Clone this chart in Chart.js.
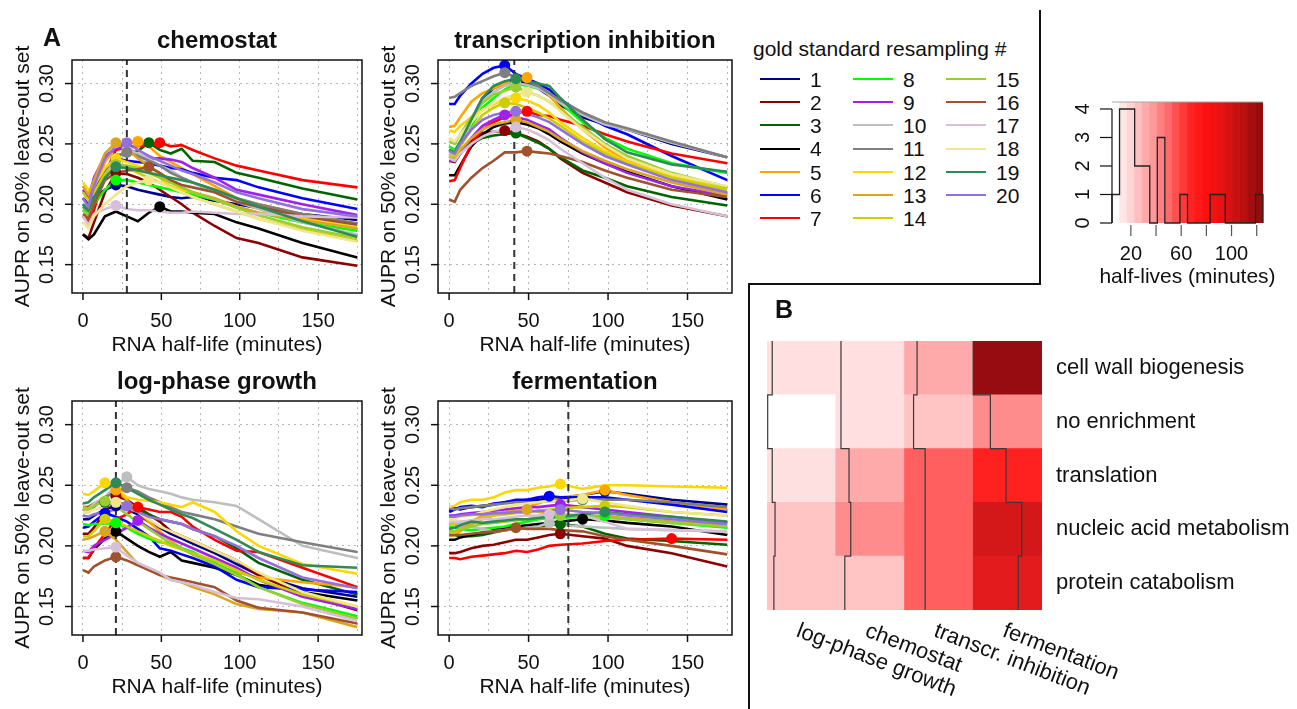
<!DOCTYPE html>
<html>
<head>
<meta charset="utf-8">
<script src="https://cdn.jsdelivr.net/npm/chart.js@4.4.1/dist/chart.umd.min.js"></script>
<style>
body{margin:0;background:#fff;width:1297px;height:709px;position:relative;overflow:hidden;font-family:"Liberation Sans",Arial,Helvetica,sans-serif;color:#111}
canvas{position:absolute}
.t{position:absolute;white-space:nowrap}
.bar{position:absolute;background:#111}
</style>
</head>
<body>
<canvas id="chemostat" width="372" height="360" style="left:0;top:0"></canvas>
<canvas id="transcription" width="372" height="360" style="left:372px;top:0"></canvas>
<canvas id="logphase" width="372" height="359" style="left:0;top:350px"></canvas>
<canvas id="fermentation" width="372" height="359" style="left:372px;top:350px"></canvas>
<canvas id="hist" width="257" height="240" style="left:1040px;top:60px"></canvas>
<canvas id="heat" width="547" height="424" style="left:750px;top:285px"></canvas>
<script>
// x grid shared by all AUPR curves (RNA half-life, minutes)
const HALF_LIFE=[0,3.5,7,14,21,28,35,42,49,56,63,70,84,98,112,140,175];
const RESAMPLING=['1','2','3','4','5','6','7','8','9','10','11','12','13','14','15','16','17','18','19','20'];
const SERIES_COLORS=['#00008b','#8b0000','#006400','#000000','#ffa500','#0000ff','#ff0000','#00ff00','#a020f0','#bebebe',
  '#7f7f7f','#ffd700','#daa520','#cdcd00','#9acd32','#a0522d','#d8bfd8','#f0e68c','#2e8b57','#9370db'];

const chemostat=[
  [0.200,0.195,0.205,0.212,0.216,0.215,0.212,0.210,0.208,0.206,0.205,0.206,0.203,0.200,0.197,0.192,0.187],
  [0.175,0.172,0.185,0.210,0.226,0.225,0.222,0.218,0.212,0.206,0.200,0.193,0.182,0.172,0.168,0.156,0.149],
  [0.200,0.195,0.205,0.228,0.240,0.242,0.244,0.251,0.245,0.242,0.246,0.236,0.235,0.226,0.222,0.213,0.204],
  [0.175,0.171,0.175,0.190,0.194,0.190,0.186,0.193,0.198,0.194,0.194,0.193,0.192,0.185,0.180,0.168,0.156],
  [0.205,0.200,0.212,0.235,0.248,0.250,0.252,0.248,0.240,0.235,0.230,0.225,0.215,0.205,0.200,0.192,0.184],
  [0.205,0.200,0.210,0.228,0.238,0.236,0.235,0.234,0.232,0.230,0.229,0.226,0.222,0.220,0.214,0.205,0.196],
  [0.190,0.185,0.195,0.225,0.245,0.247,0.248,0.249,0.251,0.248,0.249,0.245,0.238,0.232,0.228,0.220,0.214],
  [0.198,0.190,0.200,0.212,0.220,0.220,0.218,0.216,0.214,0.212,0.210,0.208,0.204,0.198,0.193,0.185,0.178],
  [0.212,0.205,0.222,0.240,0.246,0.248,0.240,0.238,0.238,0.237,0.235,0.230,0.222,0.212,0.208,0.200,0.191],
  [0.200,0.196,0.205,0.225,0.238,0.245,0.242,0.238,0.232,0.228,0.222,0.218,0.210,0.202,0.196,0.185,0.175],
  [0.198,0.195,0.205,0.228,0.240,0.243,0.240,0.236,0.232,0.226,0.222,0.218,0.212,0.205,0.200,0.192,0.184],
  [0.218,0.212,0.215,0.230,0.238,0.235,0.232,0.228,0.222,0.215,0.212,0.210,0.205,0.198,0.193,0.188,0.181],
  [0.215,0.208,0.220,0.242,0.251,0.246,0.238,0.232,0.225,0.218,0.214,0.210,0.205,0.198,0.193,0.187,0.180],
  [0.210,0.203,0.210,0.225,0.232,0.230,0.226,0.222,0.218,0.214,0.210,0.206,0.200,0.194,0.188,0.179,0.170],
  [0.195,0.190,0.202,0.222,0.233,0.232,0.230,0.226,0.222,0.218,0.214,0.210,0.204,0.197,0.191,0.181,0.172],
  [0.192,0.188,0.200,0.220,0.226,0.228,0.229,0.231,0.226,0.220,0.216,0.214,0.210,0.202,0.198,0.190,0.183],
  [0.190,0.183,0.192,0.196,0.199,0.196,0.195,0.195,0.194,0.193,0.193,0.194,0.193,0.192,0.192,0.190,0.189],
  [0.185,0.180,0.190,0.200,0.208,0.215,0.218,0.220,0.218,0.214,0.210,0.206,0.200,0.194,0.188,0.178,0.169],
  [0.200,0.195,0.205,0.222,0.231,0.230,0.228,0.226,0.224,0.222,0.220,0.218,0.212,0.205,0.198,0.186,0.173],
  [0.205,0.198,0.215,0.238,0.248,0.251,0.245,0.240,0.236,0.232,0.228,0.225,0.218,0.210,0.205,0.196,0.190]
];
const transcription=[
  [0.245,0.242,0.250,0.270,0.288,0.296,0.300,0.302,0.300,0.296,0.290,0.282,0.272,0.266,0.262,0.250,0.239],
  [0.236,0.235,0.242,0.252,0.259,0.260,0.261,0.259,0.256,0.252,0.246,0.238,0.226,0.218,0.210,0.199,0.190],
  [0.240,0.238,0.244,0.250,0.255,0.257,0.258,0.259,0.255,0.251,0.246,0.239,0.228,0.222,0.215,0.206,0.199],
  [0.224,0.224,0.232,0.248,0.258,0.264,0.267,0.268,0.266,0.263,0.258,0.252,0.242,0.234,0.227,0.215,0.204],
  [0.264,0.265,0.272,0.285,0.292,0.296,0.300,0.302,0.305,0.298,0.290,0.280,0.262,0.247,0.236,0.222,0.209],
  [0.283,0.283,0.290,0.300,0.308,0.313,0.315,0.308,0.304,0.300,0.295,0.287,0.275,0.265,0.258,0.240,0.220],
  [0.219,0.220,0.230,0.250,0.262,0.268,0.272,0.276,0.277,0.274,0.273,0.270,0.265,0.258,0.252,0.242,0.234],
  [0.248,0.245,0.252,0.265,0.280,0.288,0.295,0.300,0.298,0.296,0.292,0.284,0.268,0.255,0.246,0.234,0.226],
  [0.236,0.236,0.242,0.255,0.265,0.270,0.274,0.272,0.270,0.266,0.262,0.255,0.243,0.234,0.226,0.215,0.207],
  [0.242,0.240,0.248,0.268,0.285,0.293,0.298,0.300,0.299,0.296,0.291,0.284,0.274,0.266,0.262,0.251,0.239],
  [0.288,0.289,0.292,0.298,0.302,0.306,0.309,0.305,0.302,0.298,0.292,0.286,0.276,0.268,0.263,0.252,0.239],
  [0.261,0.260,0.265,0.272,0.278,0.283,0.286,0.288,0.286,0.282,0.276,0.268,0.255,0.244,0.235,0.223,0.213],
  [0.240,0.238,0.245,0.255,0.262,0.266,0.268,0.270,0.268,0.264,0.260,0.254,0.244,0.236,0.229,0.218,0.208],
  [0.240,0.240,0.248,0.262,0.274,0.280,0.284,0.283,0.280,0.276,0.271,0.265,0.252,0.242,0.234,0.222,0.212],
  [0.252,0.250,0.258,0.272,0.284,0.291,0.294,0.297,0.293,0.290,0.285,0.278,0.264,0.250,0.240,0.226,0.214],
  [0.204,0.202,0.212,0.222,0.230,0.236,0.243,0.243,0.244,0.243,0.242,0.240,0.235,0.228,0.222,0.212,0.206],
  [0.238,0.236,0.242,0.250,0.256,0.260,0.262,0.264,0.262,0.258,0.253,0.246,0.234,0.222,0.212,0.200,0.190],
  [0.255,0.252,0.258,0.268,0.278,0.284,0.288,0.291,0.293,0.290,0.285,0.277,0.262,0.249,0.238,0.225,0.215],
  [0.245,0.243,0.252,0.270,0.288,0.298,0.302,0.304,0.302,0.300,0.298,0.288,0.270,0.254,0.243,0.233,0.227],
  [0.244,0.242,0.250,0.262,0.270,0.274,0.276,0.277,0.275,0.272,0.268,0.262,0.250,0.240,0.233,0.220,0.210]
];
const logPhase=[
  [0.222,0.222,0.225,0.230,0.233,0.230,0.226,0.220,0.215,0.210,0.206,0.202,0.194,0.185,0.176,0.165,0.158],
  [0.210,0.210,0.215,0.228,0.241,0.238,0.232,0.226,0.220,0.212,0.208,0.204,0.196,0.188,0.176,0.160,0.147],
  [0.232,0.232,0.235,0.236,0.236,0.234,0.230,0.226,0.222,0.220,0.218,0.214,0.208,0.198,0.186,0.172,0.160],
  [0.190,0.190,0.197,0.206,0.212,0.206,0.200,0.195,0.191,0.195,0.188,0.186,0.182,0.176,0.168,0.162,0.155],
  [0.232,0.231,0.235,0.240,0.246,0.238,0.228,0.220,0.212,0.204,0.198,0.193,0.185,0.178,0.174,0.170,0.166],
  [0.215,0.216,0.220,0.227,0.224,0.220,0.214,0.208,0.198,0.196,0.193,0.190,0.183,0.172,0.166,0.164,0.162],
  [0.190,0.190,0.198,0.210,0.222,0.226,0.232,0.230,0.228,0.228,0.224,0.216,0.205,0.196,0.195,0.182,0.166],
  [0.218,0.217,0.218,0.218,0.219,0.215,0.210,0.206,0.203,0.202,0.198,0.195,0.186,0.177,0.166,0.153,0.142],
  [0.196,0.195,0.200,0.205,0.210,0.215,0.221,0.215,0.210,0.206,0.202,0.198,0.190,0.182,0.172,0.158,0.148],
  [0.230,0.230,0.235,0.240,0.250,0.257,0.250,0.247,0.245,0.243,0.240,0.238,0.236,0.233,0.222,0.200,0.190],
  [0.228,0.228,0.232,0.240,0.245,0.248,0.245,0.240,0.236,0.232,0.228,0.226,0.222,0.216,0.210,0.203,0.195],
  [0.243,0.242,0.245,0.252,0.248,0.240,0.238,0.237,0.236,0.234,0.232,0.236,0.228,0.212,0.200,0.185,0.177],
  [0.205,0.206,0.208,0.212,0.205,0.195,0.185,0.180,0.176,0.172,0.170,0.166,0.160,0.152,0.148,0.145,0.133],
  [0.208,0.208,0.212,0.222,0.220,0.216,0.212,0.208,0.204,0.200,0.197,0.194,0.188,0.180,0.172,0.160,0.150],
  [0.230,0.230,0.233,0.237,0.233,0.226,0.220,0.214,0.208,0.202,0.198,0.193,0.185,0.176,0.166,0.152,0.140],
  [0.180,0.178,0.183,0.188,0.191,0.188,0.184,0.180,0.176,0.174,0.172,0.170,0.166,0.155,0.149,0.145,0.136],
  [0.196,0.196,0.197,0.198,0.199,0.192,0.186,0.182,0.178,0.172,0.170,0.168,0.162,0.157,0.156,0.150,0.138],
  [0.228,0.228,0.230,0.232,0.236,0.232,0.228,0.222,0.216,0.212,0.208,0.204,0.196,0.188,0.178,0.162,0.150],
  [0.235,0.236,0.240,0.246,0.252,0.248,0.243,0.238,0.234,0.230,0.226,0.223,0.214,0.205,0.195,0.184,0.182],
  [0.225,0.224,0.226,0.228,0.230,0.233,0.228,0.224,0.222,0.220,0.218,0.214,0.208,0.200,0.190,0.174,0.165]
];
const fermentation=[
  [0.230,0.231,0.230,0.232,0.233,0.234,0.236,0.237,0.238,0.238,0.239,0.239,0.242,0.245,0.243,0.238,0.234],
  [0.194,0.194,0.195,0.198,0.200,0.201,0.203,0.205,0.205,0.207,0.209,0.210,0.208,0.206,0.200,0.194,0.183],
  [0.209,0.209,0.208,0.208,0.209,0.211,0.213,0.214,0.215,0.216,0.217,0.218,0.216,0.210,0.206,0.204,0.201],
  [0.205,0.205,0.207,0.209,0.211,0.213,0.215,0.216,0.217,0.218,0.219,0.220,0.222,0.221,0.219,0.216,0.209],
  [0.208,0.209,0.212,0.220,0.225,0.226,0.228,0.230,0.232,0.235,0.238,0.240,0.242,0.246,0.242,0.236,0.230],
  [0.228,0.230,0.232,0.233,0.232,0.235,0.236,0.238,0.238,0.240,0.241,0.240,0.240,0.240,0.238,0.234,0.228],
  [0.190,0.190,0.189,0.191,0.192,0.193,0.194,0.196,0.195,0.197,0.200,0.201,0.202,0.204,0.205,0.206,0.205],
  [0.216,0.215,0.214,0.213,0.214,0.215,0.216,0.218,0.220,0.222,0.223,0.223,0.224,0.225,0.222,0.219,0.215],
  [0.225,0.225,0.226,0.227,0.228,0.229,0.230,0.231,0.232,0.232,0.233,0.234,0.232,0.230,0.228,0.224,0.219],
  [0.218,0.217,0.216,0.216,0.214,0.212,0.213,0.214,0.215,0.216,0.219,0.217,0.216,0.215,0.214,0.213,0.212],
  [0.231,0.230,0.231,0.232,0.233,0.234,0.235,0.236,0.236,0.236,0.237,0.237,0.238,0.238,0.238,0.236,0.232],
  [0.232,0.233,0.236,0.238,0.238,0.240,0.244,0.246,0.246,0.248,0.249,0.251,0.247,0.250,0.250,0.249,0.248],
  [0.212,0.212,0.214,0.218,0.222,0.225,0.227,0.229,0.230,0.228,0.227,0.226,0.225,0.224,0.223,0.220,0.217],
  [0.218,0.218,0.219,0.221,0.223,0.225,0.226,0.227,0.228,0.229,0.230,0.231,0.232,0.233,0.232,0.228,0.225],
  [0.212,0.212,0.214,0.216,0.218,0.219,0.220,0.221,0.222,0.223,0.224,0.225,0.224,0.223,0.222,0.219,0.216],
  [0.209,0.209,0.209,0.210,0.211,0.212,0.213,0.215,0.214,0.214,0.214,0.213,0.212,0.208,0.205,0.200,0.193],
  [0.220,0.220,0.220,0.221,0.222,0.222,0.223,0.224,0.225,0.225,0.226,0.226,0.225,0.220,0.214,0.213,0.212],
  [0.222,0.222,0.224,0.225,0.228,0.230,0.232,0.234,0.235,0.236,0.237,0.237,0.239,0.236,0.233,0.228,0.225],
  [0.214,0.215,0.217,0.220,0.219,0.220,0.221,0.222,0.222,0.223,0.224,0.224,0.226,0.228,0.226,0.224,0.220],
  [0.224,0.224,0.225,0.226,0.226,0.227,0.227,0.228,0.228,0.229,0.229,0.230,0.228,0.227,0.225,0.222,0.218]
];
const PANEL_TITLES=['chemostat','transcription inhibition','log-phase growth','fermentation'];
const OPTIMAL_HALF_LIFE=[28,41,21,75];
const X_TICK_LABELS=[0,50,100,150];
const Y_TICK_LABELS=[0.15,0.20,0.25,0.30];

// histogram of best half-lives
const HIST_EDGES=[5,11,17,23,29,35,41,47,53,59,65,71,77,83,89,95,101,107,113,119,125];
const HIST_COUNTS=[1,4,4,2,2,0,3,0,0,1,0,0,0,1,1,0,0,0,0,1];
const HIST_TICKS=[20,40,60,80,100,120];
const HIST_TICK_LABELS=[20,60,100];
const HIST_Y_TICKS=[0,1,2,3,4];
const STRIPE_COLORS=['#ffffff','#ffe6e6','#ffd4d4','#ffbfbf','#ffaaaa','#ff9898','#ff8080','#ff6a6a','#ff5050','#ff3838',
  '#ff2424','#ff1818','#fc1010','#f21212','#e61212','#d81212','#c81212','#b81010','#a50e0e','#940c0c'];

// panel B
const CONDITIONS=['log-phase growth','chemostat','transcr. inhibition','fermentation'];
const CATEGORIES=['cell wall biogenesis','no enrichment','translation','nucleic acid metabolism','protein catabolism'];
const ENRICHMENT=[ // rows top->bottom, columns = CONDITIONS
  [0.108,0.108,0.286,1.000],
  [0.000,0.108,0.198,0.387],
  [0.105,0.286,0.538,0.750],
  [0.198,0.387,0.538,0.852],
  [0.198,0.198,0.538,0.814]
];
const TRACE=[ // per condition, rows top->bottom, offset inside the column
  [0.076,0.010,0.076,0.117,0.100],
  [0.076,0.076,0.193,0.218,0.132],
  [0.183,0.132,0.300,0.300,0.300],
  [0.000,0.249,0.477,0.706,0.655]
];

const FONT='"Liberation Sans", Arial, Helvetica, sans-serif';
const X_MIN=-7, X_MAX=178, Y_MIN=0.1265, Y_MAX=0.3195;
const INK='#111';

function seg(ctx,x1,y1,x2,y2){ctx.beginPath();ctx.moveTo(x1,y1);ctx.lineTo(x2,y2);ctx.stroke()}

const rAxes={
  id:'rAxes',
  afterDraw(chart,args,opts){
    const {ctx,chartArea:a,scales:{x,y}}=chart;
    ctx.save();
    ctx.strokeStyle=INK; ctx.lineWidth=1.5; ctx.setLineDash([]);
    ctx.strokeRect(a.left,a.top,a.right-a.left,a.bottom-a.top);
    ctx.fillStyle=INK; ctx.textAlign='center'; ctx.textBaseline='middle';
    ctx.font='20px '+FONT;
    X_TICK_LABELS.forEach(v=>{
      const px=x.getPixelForValue(v);
      seg(ctx,px,a.bottom,px,a.bottom+7);
      ctx.fillText(String(v),px,a.bottom+28);
    });
    Y_TICK_LABELS.forEach(v=>{
      const py=y.getPixelForValue(v);
      seg(ctx,a.left-7,py,a.left,py);
      ctx.save(); ctx.translate(a.left-25,py); ctx.rotate(-Math.PI/2);
      ctx.fillText(v.toFixed(2),0,0); ctx.restore();
    });
    ctx.font='21px '+FONT;
    ctx.fillText('RNA half-life (minutes)',(a.left+a.right)/2,a.bottom+52);
    ctx.save(); ctx.translate(a.left-49,(a.top+a.bottom)/2); ctx.rotate(-Math.PI/2);
    ctx.fillText('AUPR on 50% leave-out set',0,0); ctx.restore();
    ctx.font='bold 24px '+FONT; ctx.textBaseline='alphabetic';
    ctx.fillText(opts.title,(a.left+a.right)/2,a.top-12);
    ctx.restore();
  }
};

function panel(id,series,k,pad){
  const datasets=[];
  series.forEach((vals,i)=>{
    datasets.push({label:RESAMPLING[i],data:HALF_LIFE.map((h,j)=>({x:h,y:vals[j]})),
      borderColor:SERIES_COLORS[i],borderWidth:2.6,pointRadius:0,tension:0,order:140-i});
  });
  datasets.push({data:[{x:OPTIMAL_HALF_LIFE[k],y:Y_MIN},{x:OPTIMAL_HALF_LIFE[k],y:Y_MAX}],
    borderColor:'#333',borderWidth:2,borderDash:[7,5],pointRadius:0,order:100});
  series.forEach((vals,i)=>{
    const best=vals.indexOf(Math.max(...vals));
    datasets.push({data:[{x:HALF_LIFE[best],y:vals[best]}],showLine:false,pointRadius:5.5,
      pointBackgroundColor:SERIES_COLORS[i],pointBorderWidth:0,order:40-i});
  });
  const grid={color:'#b8b8b8',lineWidth:1,drawTicks:false};
  new Chart(document.getElementById(id),{
    type:'line',
    data:{datasets},
    plugins:[rAxes],
    options:{
      responsive:false,animation:false,devicePixelRatio:1,
      layout:{padding:pad},
      plugins:{legend:{display:false},tooltip:{enabled:false},rAxes:{title:PANEL_TITLES[k]}},
      scales:{
        x:{type:'linear',min:X_MIN,max:X_MAX,afterFit:s=>{s.height=0},
           ticks:{display:false,stepSize:25,includeBounds:false},grid,border:{display:false,dash:[2,4]}},
        y:{type:'linear',min:Y_MIN,max:Y_MAX,afterFit:s=>{s.width=0},
           ticks:{display:false,stepSize:0.05,includeBounds:false},grid,border:{display:false,dash:[2,4]}}
      }
    }
  });
}
panel('chemostat',chemostat,0,{left:72,top:60,right:10,bottom:67});
panel('transcription',transcription,1,{left:66,top:60,right:12,bottom:67});
panel('logphase',logPhase,2,{left:72,top:51,right:10,bottom:74});
panel('fermentation',fermentation,3,{left:66,top:51,right:12,bottom:74});

// ---- histogram of optimal half-lives ----
const HIST_TOP=4.245;
const histSteps=[{x:HIST_EDGES[0],y:0}];
HIST_COUNTS.forEach((c,i)=>histSteps.push({x:HIST_EDGES[i],y:c}));
histSteps.push({x:HIST_EDGES[HIST_EDGES.length-1],y:HIST_COUNTS[HIST_COUNTS.length-1]});
histSteps.push({x:HIST_EDGES[HIST_EDGES.length-1],y:0});
const histAxes={
  id:'histAxes',
  afterDraw(chart){
    const {ctx,chartArea:a,scales:{x,y}}=chart;
    ctx.save();
    ctx.strokeStyle='#a8a8a8'; ctx.lineWidth=1.2;
    seg(ctx,a.left,a.top,a.right,a.top);
    ctx.strokeStyle=INK; ctx.lineWidth=1.2;
    seg(ctx,a.left,y.getPixelForValue(0),a.left,y.getPixelForValue(4));
    ctx.fillStyle=INK; ctx.textAlign='center'; ctx.textBaseline='middle'; ctx.font='20px '+FONT;
    HIST_Y_TICKS.forEach(v=>{
      const py=y.getPixelForValue(v);
      seg(ctx,a.left-12,py,a.left,py);
      ctx.save(); ctx.translate(a.left-29,py); ctx.rotate(-Math.PI/2); ctx.fillText(String(v),0,0); ctx.restore();
    });
    ctx.strokeStyle='#555';
    HIST_TICKS.forEach(v=>{const px=x.getPixelForValue(v); seg(ctx,px,a.bottom+2,px,a.bottom+13);});
    HIST_TICK_LABELS.forEach(v=>ctx.fillText(String(v),x.getPixelForValue(v),a.bottom+31));
    ctx.font='21px '+FONT;
    ctx.fillText('half-lives (minutes)',(a.left+a.right)/2,a.bottom+54);
    ctx.restore();
  }
};
new Chart(document.getElementById('hist'),{
  type:'bar',
  data:{datasets:[
    {type:'line',data:histSteps,borderColor:'#222',borderWidth:1.3,pointRadius:0,stepped:'before',clip:false,order:0},
    {type:'bar',data:HIST_COUNTS.map((c,i)=>({x:(HIST_EDGES[i]+HIST_EDGES[i+1])/2,y:HIST_TOP})),
      backgroundColor:STRIPE_COLORS,borderWidth:0,barPercentage:1,categoryPercentage:1,grouped:false,order:1}
  ]},
  plugins:[histAxes],
  options:{
    responsive:false,animation:false,devicePixelRatio:1,
    layout:{padding:{left:72,top:42,right:34,bottom:77}},
    plugins:{legend:{display:false},tooltip:{enabled:false}},
    scales:{
      x:{type:'linear',offset:false,min:HIST_EDGES[0],max:HIST_EDGES[HIST_EDGES.length-1],display:false},
      y:{type:'linear',min:0,max:HIST_TOP,display:false}
    }
  }
});

// ---- panel B heatmap ----
const RAMP=[[0,[255,255,255]],[0.75,[255,32,32]],[1,[150,12,16]]];
function rampColor(t){
  for(let i=1;i<RAMP.length;i++){
    if(t<=RAMP[i][0]){
      const [t0,c0]=RAMP[i-1],[t1,c1]=RAMP[i];const f=(t-t0)/(t1-t0);
      return 'rgb('+c0.map((v,j)=>Math.round(v+(c1[j]-v)*f)).join(',')+')';
    }
  }
  return 'rgb('+RAMP[RAMP.length-1][1].join(',')+')';
}
const heatDatasets=CATEGORIES.map((name,r)=>({type:'bar',label:name,data:CONDITIONS.map(()=>1),
  backgroundColor:ENRICHMENT[r].map(rampColor),borderWidth:0,barPercentage:1,categoryPercentage:1,
  grouped:false,stack:'cells',order:2})).reverse();
TRACE.forEach((offs,c)=>{
  const pts=[];
  offs.forEach((f,r)=>{pts.push({x:c+f,y:CATEGORIES.length-r});pts.push({x:c+f,y:CATEGORIES.length-r-1});});
  heatDatasets.push({type:'line',data:pts,xAxisID:'xt',yAxisID:'yt',borderColor:'#3a3a3a',borderWidth:1.2,
    pointRadius:0,tension:0,order:0});
});
const heatLabels={
  id:'heatLabels',
  afterDraw(chart){
    const {ctx,chartArea:a,scales:{x,y}}=chart;
    ctx.save(); ctx.fillStyle=INK; ctx.font='22px '+FONT;
    ctx.textAlign='left'; ctx.textBaseline='middle';
    CATEGORIES.forEach((name,r)=>ctx.fillText(name,a.right+14,y.getPixelForValue(CATEGORIES.length-r-0.5)));
    ctx.textBaseline='top';
    CONDITIONS.forEach((name,c)=>{
      ctx.save(); ctx.translate(x.getPixelForValue(c),a.bottom+10); ctx.rotate(21*Math.PI/180);
      ctx.fillText(name,0,0); ctx.restore();
    });
    ctx.restore();
  }
};
new Chart(document.getElementById('heat'),{
  type:'bar',
  data:{labels:CONDITIONS,datasets:heatDatasets},
  plugins:[heatLabels],
  options:{
    responsive:false,animation:false,devicePixelRatio:1,
    layout:{padding:{left:17,top:56,right:255,bottom:99}},
    plugins:{legend:{display:false},tooltip:{enabled:false}},
    scales:{
      x:{type:'category',stacked:true,offset:true,display:false},
      y:{type:'linear',stacked:true,min:0,max:5,display:false},
      xt:{type:'linear',offset:false,min:0,max:4,display:false},
      yt:{type:'linear',offset:false,min:0,max:5,display:false}
    }
  }
});

// ---- text, legend and frame lines ----
function addText(txt,x,baseline,size,bold){
  const d=document.createElement('div'); d.className='t'; d.textContent=txt;
  d.style.left=x+'px'; d.style.top=(baseline-0.8465*size)+'px';
  d.style.fontSize=size+'px'; d.style.lineHeight=size+'px';
  if(bold) d.style.fontWeight='bold';
  document.body.appendChild(d);
}
function addBar(l,t,w,h,color){
  const d=document.createElement('div'); d.className='bar';
  Object.assign(d.style,{left:l+'px',top:t+'px',width:w+'px',height:h+'px'});
  if(color) d.style.background=color;
  document.body.appendChild(d);
}
addText('A',43,46,25,true);
addText('B',775,318,25,true);
addText('gold standard resampling #',753,56,21);
RESAMPLING.forEach((lab,i)=>{
  const col=Math.floor(i/7), row=i%7;
  const lx=760+col*93, ly=79+row*23.2;
  addBar(lx,ly-1,40,2,SERIES_COLORS[i]);
  addText(lab,lx+50,ly+7.5,21);
});
addBar(1039,10,1.5,274);
addBar(748,283,292.5,1.5);
addBar(748,283,1.5,426);
</script>
</body>
</html>
